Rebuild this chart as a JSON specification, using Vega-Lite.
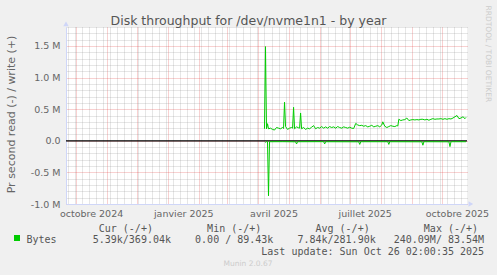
{
  "$schema": "https://vega.github.io/schema/vega-lite/v6.json",
  "width": 401,
  "height": 177,
  "autosize": {"type": "none"},
  "padding": {"left": 66, "top": 27, "right": 30, "bottom": 71},
  "background": "#f0f0f0",
  "title": {"text": "Munin 2.0.67", "orient": "bottom", "anchor": "middle", "frame": "group", "dx": -18.5, "offset": 4, "font": "DejaVu Sans", "fontSize": 7.5, "fontWeight": "normal", "color": "#cccccc"},
  "config": {"view": {"fill": "#ffffff", "stroke": null}, "font": "DejaVu Sans"},
  "data": {"values": [
    {"date": "2025-04-07", "dir": "w", "v": 190000},
    {"date": "2025-04-08", "dir": "w", "v": 1490000},
    {"date": "2025-04-09", "dir": "w", "v": 190000},
    {"date": "2025-04-10", "dir": "w", "v": 270000},
    {"date": "2025-04-11", "dir": "w", "v": 190000},
    {"date": "2025-04-13", "dir": "w", "v": 200000},
    {"date": "2025-04-15", "dir": "w", "v": 180000},
    {"date": "2025-04-17", "dir": "w", "v": 170000},
    {"date": "2025-04-19", "dir": "w", "v": 210000},
    {"date": "2025-04-21", "dir": "w", "v": 200000},
    {"date": "2025-04-23", "dir": "w", "v": 190000},
    {"date": "2025-04-25", "dir": "w", "v": 210000},
    {"date": "2025-04-26", "dir": "w", "v": 195000},
    {"date": "2025-04-27", "dir": "w", "v": 610000},
    {"date": "2025-04-28", "dir": "w", "v": 225000},
    {"date": "2025-04-30", "dir": "w", "v": 180000},
    {"date": "2025-05-02", "dir": "w", "v": 200000},
    {"date": "2025-05-04", "dir": "w", "v": 210000},
    {"date": "2025-05-05", "dir": "w", "v": 200000},
    {"date": "2025-05-06", "dir": "w", "v": 530000},
    {"date": "2025-05-07", "dir": "w", "v": 190000},
    {"date": "2025-05-09", "dir": "w", "v": 220000},
    {"date": "2025-05-11", "dir": "w", "v": 205000},
    {"date": "2025-05-12", "dir": "w", "v": 200000},
    {"date": "2025-05-13", "dir": "w", "v": 440000},
    {"date": "2025-05-14", "dir": "w", "v": 190000},
    {"date": "2025-05-16", "dir": "w", "v": 210000},
    {"date": "2025-05-18", "dir": "w", "v": 180000},
    {"date": "2025-05-20", "dir": "w", "v": 200000},
    {"date": "2025-05-22", "dir": "w", "v": 190000},
    {"date": "2025-05-24", "dir": "w", "v": 215000},
    {"date": "2025-05-26", "dir": "w", "v": 240000},
    {"date": "2025-05-28", "dir": "w", "v": 190000},
    {"date": "2025-05-30", "dir": "w", "v": 210000},
    {"date": "2025-06-01", "dir": "w", "v": 200000},
    {"date": "2025-06-03", "dir": "w", "v": 225000},
    {"date": "2025-06-05", "dir": "w", "v": 200000},
    {"date": "2025-06-07", "dir": "w", "v": 220000},
    {"date": "2025-06-09", "dir": "w", "v": 200000},
    {"date": "2025-06-11", "dir": "w", "v": 225000},
    {"date": "2025-06-13", "dir": "w", "v": 210000},
    {"date": "2025-06-15", "dir": "w", "v": 220000},
    {"date": "2025-06-17", "dir": "w", "v": 200000},
    {"date": "2025-06-19", "dir": "w", "v": 225000},
    {"date": "2025-06-21", "dir": "w", "v": 210000},
    {"date": "2025-06-23", "dir": "w", "v": 200000},
    {"date": "2025-06-25", "dir": "w", "v": 220000},
    {"date": "2025-06-27", "dir": "w", "v": 210000},
    {"date": "2025-06-29", "dir": "w", "v": 200000},
    {"date": "2025-07-01", "dir": "w", "v": 215000},
    {"date": "2025-07-03", "dir": "w", "v": 200000},
    {"date": "2025-07-05", "dir": "w", "v": 195000},
    {"date": "2025-07-07", "dir": "w", "v": 275000},
    {"date": "2025-07-09", "dir": "w", "v": 250000},
    {"date": "2025-07-11", "dir": "w", "v": 240000},
    {"date": "2025-07-13", "dir": "w", "v": 245000},
    {"date": "2025-07-15", "dir": "w", "v": 230000},
    {"date": "2025-07-17", "dir": "w", "v": 240000},
    {"date": "2025-07-19", "dir": "w", "v": 220000},
    {"date": "2025-07-21", "dir": "w", "v": 230000},
    {"date": "2025-07-23", "dir": "w", "v": 245000},
    {"date": "2025-07-25", "dir": "w", "v": 220000},
    {"date": "2025-07-27", "dir": "w", "v": 230000},
    {"date": "2025-07-29", "dir": "w", "v": 240000},
    {"date": "2025-07-31", "dir": "w", "v": 220000},
    {"date": "2025-08-02", "dir": "w", "v": 250000},
    {"date": "2025-08-03", "dir": "w", "v": 300000},
    {"date": "2025-08-05", "dir": "w", "v": 230000},
    {"date": "2025-08-07", "dir": "w", "v": 210000},
    {"date": "2025-08-09", "dir": "w", "v": 225000},
    {"date": "2025-08-11", "dir": "w", "v": 240000},
    {"date": "2025-08-13", "dir": "w", "v": 230000},
    {"date": "2025-08-15", "dir": "w", "v": 225000},
    {"date": "2025-08-17", "dir": "w", "v": 240000},
    {"date": "2025-08-18", "dir": "w", "v": 235000},
    {"date": "2025-08-19", "dir": "w", "v": 340000},
    {"date": "2025-08-21", "dir": "w", "v": 320000},
    {"date": "2025-08-23", "dir": "w", "v": 330000},
    {"date": "2025-08-25", "dir": "w", "v": 335000},
    {"date": "2025-08-27", "dir": "w", "v": 360000},
    {"date": "2025-08-29", "dir": "w", "v": 320000},
    {"date": "2025-08-31", "dir": "w", "v": 330000},
    {"date": "2025-09-02", "dir": "w", "v": 335000},
    {"date": "2025-09-04", "dir": "w", "v": 330000},
    {"date": "2025-09-06", "dir": "w", "v": 335000},
    {"date": "2025-09-08", "dir": "w", "v": 330000},
    {"date": "2025-09-10", "dir": "w", "v": 340000},
    {"date": "2025-09-12", "dir": "w", "v": 340000},
    {"date": "2025-09-14", "dir": "w", "v": 330000},
    {"date": "2025-09-16", "dir": "w", "v": 340000},
    {"date": "2025-09-18", "dir": "w", "v": 325000},
    {"date": "2025-09-20", "dir": "w", "v": 340000},
    {"date": "2025-09-22", "dir": "w", "v": 350000},
    {"date": "2025-09-24", "dir": "w", "v": 340000},
    {"date": "2025-09-26", "dir": "w", "v": 345000},
    {"date": "2025-09-28", "dir": "w", "v": 345000},
    {"date": "2025-09-30", "dir": "w", "v": 350000},
    {"date": "2025-10-02", "dir": "w", "v": 340000},
    {"date": "2025-10-04", "dir": "w", "v": 350000},
    {"date": "2025-10-06", "dir": "w", "v": 340000},
    {"date": "2025-10-08", "dir": "w", "v": 350000},
    {"date": "2025-10-10", "dir": "w", "v": 345000},
    {"date": "2025-10-12", "dir": "w", "v": 360000},
    {"date": "2025-10-14", "dir": "w", "v": 380000},
    {"date": "2025-10-16", "dir": "w", "v": 400000},
    {"date": "2025-10-18", "dir": "w", "v": 350000},
    {"date": "2025-10-20", "dir": "w", "v": 360000},
    {"date": "2025-10-22", "dir": "w", "v": 380000},
    {"date": "2025-10-24", "dir": "w", "v": 350000},
    {"date": "2025-10-25", "dir": "w", "v": 370000},
    {"date": "2025-04-08", "dir": "r", "v": -30000},
    {"date": "2025-04-09", "dir": "r", "v": -12000},
    {"date": "2025-04-10", "dir": "r", "v": -15000},
    {"date": "2025-04-11", "dir": "r", "v": -870000},
    {"date": "2025-04-12", "dir": "r", "v": -15000},
    {"date": "2025-04-25", "dir": "r", "v": -14000},
    {"date": "2025-05-08", "dir": "r", "v": -16000},
    {"date": "2025-05-09", "dir": "r", "v": -50000},
    {"date": "2025-05-10", "dir": "r", "v": -15000},
    {"date": "2025-06-05", "dir": "r", "v": -14000},
    {"date": "2025-06-06", "dir": "r", "v": -50000},
    {"date": "2025-06-07", "dir": "r", "v": -15000},
    {"date": "2025-07-10", "dir": "r", "v": -16000},
    {"date": "2025-07-11", "dir": "r", "v": -57000},
    {"date": "2025-07-12", "dir": "r", "v": -15000},
    {"date": "2025-08-08", "dir": "r", "v": -15000},
    {"date": "2025-08-09", "dir": "r", "v": -57000},
    {"date": "2025-08-10", "dir": "r", "v": -15000},
    {"date": "2025-09-11", "dir": "r", "v": -16000},
    {"date": "2025-09-12", "dir": "r", "v": -70000},
    {"date": "2025-09-13", "dir": "r", "v": -15000},
    {"date": "2025-10-08", "dir": "r", "v": -16000},
    {"date": "2025-10-09", "dir": "r", "v": -92000},
    {"date": "2025-10-10", "dir": "r", "v": -15000},
    {"date": "2025-10-25", "dir": "r", "v": -15000}
  ]},
  "layer": [
    {
      "data": {"values": [{}]},
      "mark": {"type": "rule", "color": "#000000", "strokeWidth": 1.2},
      "encoding": {
        "y": {"datum": 0, "type": "quantitative", "scale": {"domain": [-1000000, 1800000], "nice": false, "zero": false}, "axis": null}
      }
    },
    {
      "mark": {"type": "line", "strokeWidth": 1},
      "encoding": {
        "x": {
          "field": "date", "type": "temporal",
          "scale": {"type": "utc", "domain": [{"year": 2024, "month": 9, "date": 21, "utc": true}, {"year": 2025, "month": 10, "date": 26, "utc": true}]},
          "axis": {
            "orient": "bottom",
            "values": [
              {"year": 2024, "month": 9, "date": 23, "utc": true}, {"year": 2024, "month": 9, "date": 30, "utc": true},
              {"year": 2024, "month": 10, "date": 7, "utc": true}, {"year": 2024, "month": 10, "date": 14, "utc": true}, {"year": 2024, "month": 10, "date": 21, "utc": true}, {"year": 2024, "month": 10, "date": 28, "utc": true},
              {"year": 2024, "month": 11, "date": 4, "utc": true}, {"year": 2024, "month": 11, "date": 11, "utc": true}, {"year": 2024, "month": 11, "date": 18, "utc": true}, {"year": 2024, "month": 11, "date": 25, "utc": true},
              {"year": 2024, "month": 12, "date": 2, "utc": true}, {"year": 2024, "month": 12, "date": 9, "utc": true}, {"year": 2024, "month": 12, "date": 16, "utc": true}, {"year": 2024, "month": 12, "date": 23, "utc": true}, {"year": 2024, "month": 12, "date": 30, "utc": true},
              {"year": 2025, "month": 1, "date": 6, "utc": true}, {"year": 2025, "month": 1, "date": 13, "utc": true}, {"year": 2025, "month": 1, "date": 20, "utc": true}, {"year": 2025, "month": 1, "date": 27, "utc": true},
              {"year": 2025, "month": 2, "date": 3, "utc": true}, {"year": 2025, "month": 2, "date": 10, "utc": true}, {"year": 2025, "month": 2, "date": 17, "utc": true}, {"year": 2025, "month": 2, "date": 24, "utc": true},
              {"year": 2025, "month": 3, "date": 3, "utc": true}, {"year": 2025, "month": 3, "date": 10, "utc": true}, {"year": 2025, "month": 3, "date": 17, "utc": true}, {"year": 2025, "month": 3, "date": 24, "utc": true}, {"year": 2025, "month": 3, "date": 31, "utc": true},
              {"year": 2025, "month": 4, "date": 7, "utc": true}, {"year": 2025, "month": 4, "date": 14, "utc": true}, {"year": 2025, "month": 4, "date": 21, "utc": true}, {"year": 2025, "month": 4, "date": 28, "utc": true},
              {"year": 2025, "month": 5, "date": 5, "utc": true}, {"year": 2025, "month": 5, "date": 12, "utc": true}, {"year": 2025, "month": 5, "date": 19, "utc": true}, {"year": 2025, "month": 5, "date": 26, "utc": true},
              {"year": 2025, "month": 6, "date": 2, "utc": true}, {"year": 2025, "month": 6, "date": 9, "utc": true}, {"year": 2025, "month": 6, "date": 16, "utc": true}, {"year": 2025, "month": 6, "date": 23, "utc": true}, {"year": 2025, "month": 6, "date": 30, "utc": true},
              {"year": 2025, "month": 7, "date": 7, "utc": true}, {"year": 2025, "month": 7, "date": 14, "utc": true}, {"year": 2025, "month": 7, "date": 21, "utc": true}, {"year": 2025, "month": 7, "date": 28, "utc": true},
              {"year": 2025, "month": 8, "date": 4, "utc": true}, {"year": 2025, "month": 8, "date": 11, "utc": true}, {"year": 2025, "month": 8, "date": 18, "utc": true}, {"year": 2025, "month": 8, "date": 25, "utc": true},
              {"year": 2025, "month": 9, "date": 1, "utc": true}, {"year": 2025, "month": 9, "date": 8, "utc": true}, {"year": 2025, "month": 9, "date": 15, "utc": true}, {"year": 2025, "month": 9, "date": 22, "utc": true}, {"year": 2025, "month": 9, "date": 29, "utc": true},
              {"year": 2025, "month": 10, "date": 6, "utc": true}, {"year": 2025, "month": 10, "date": 13, "utc": true}, {"year": 2025, "month": 10, "date": 20, "utc": true},
              {"year": 2024, "month": 10, "date": 1, "utc": true}, {"year": 2024, "month": 11, "date": 1, "utc": true}, {"year": 2024, "month": 12, "date": 1, "utc": true},
              {"year": 2025, "month": 1, "date": 1, "utc": true}, {"year": 2025, "month": 2, "date": 1, "utc": true}, {"year": 2025, "month": 3, "date": 1, "utc": true}, {"year": 2025, "month": 4, "date": 1, "utc": true},
              {"year": 2025, "month": 5, "date": 1, "utc": true}, {"year": 2025, "month": 6, "date": 1, "utc": true}, {"year": 2025, "month": 7, "date": 1, "utc": true}, {"year": 2025, "month": 8, "date": 1, "utc": true},
              {"year": 2025, "month": 10, "date": 1, "utc": true},
              {"year": 2024, "month": 10, "date": 16, "utc": true}, {"year": 2025, "month": 1, "date": 16, "utc": true}, {"year": 2025, "month": 4, "date": 16, "utc": true}, {"year": 2025, "month": 7, "date": 16, "utc": true}, {"year": 2025, "month": 10, "date": 16, "utc": true}
            ],
            "grid": true,
            "gridDash": [1, 1],
            "gridWidth": 1,
            "gridColor": {"condition": {"test": "utcdate(datum.value) == 1", "value": "#de3031"}, "value": "#8f8f8f"},
            "gridOpacity": {"condition": {"test": "utcdate(datum.value) == 16 && utcday(datum.value) != 1", "value": 0}, "value": 0.45},
            "ticks": false,
            "domain": true,
            "domainColor": "#cfd6f8",
            "domainWidth": 1,
            "labelExpr": "(utcdate(datum.value) == 16 && utcday(datum.value) != 1) ? (['janvier','février','mars','avril','mai','juin','juillet','août','septembre','octobre','novembre','décembre'][utcmonth(datum.value)] + ' ' + utcyear(datum.value)) : ''",
            "labelFont": "DejaVu Sans",
            "labelFontSize": 9.5,
            "labelColor": "#666666",
            "labelBaseline": "alphabetic",
            "labelPadding": 12.7,
            "labelOverlap": false,
            "labelFlush": false,
            "labelBound": false,
            "title": [
              "\u200b\u00a0\u00a0\u00a0\u00a0\u00a0\u00a0\u00a0\u00a0\u00a0\u00a0\u00a0\u00a0Cur (-/+)\u00a0\u00a0\u00a0\u00a0\u00a0\u00a0\u00a0\u00a0\u00a0Min (-/+)\u00a0\u00a0\u00a0\u00a0\u00a0\u00a0\u00a0\u00a0\u00a0Avg (-/+)\u00a0\u00a0\u00a0\u00a0\u00a0\u00a0\u00a0\u00a0\u00a0Max (-/+)",
              "Bytes\u00a0\u00a0\u00a0\u00a0\u00a0\u00a05.39k/369.04k\u00a0\u00a0\u00a0\u00a00.00 / 89.43k\u00a0\u00a0\u00a0\u00a07.84k/281.90k\u00a0\u00a0\u00a0240.09M/ 83.54M",
              "\u200b\u00a0\u00a0\u00a0\u00a0\u00a0\u00a0\u00a0\u00a0\u00a0\u00a0\u00a0\u00a0\u00a0\u00a0\u00a0\u00a0\u00a0\u00a0\u00a0\u00a0\u00a0\u00a0\u00a0\u00a0\u00a0\u00a0\u00a0\u00a0\u00a0\u00a0\u00a0\u00a0\u00a0\u00a0\u00a0\u00a0\u00a0\u00a0\u00a0Last update: Sun Oct 26 02:00:35 2025"
            ],
            "titleFont": "DejaVu Sans Mono",
            "titleFontSize": 10,
            "titleFontWeight": "normal",
            "titleColor": "#555555",
            "titleAlign": "left",
            "titleAnchor": "start",
            "titleBaseline": "alphabetic",
            "titleX": -40,
            "titleY": 27,
            "titleLineHeight": 11.7
          }
        },
        "y": {
          "field": "v", "type": "quantitative",
          "scale": {"domain": [-1000000, 1800000], "nice": false, "zero": false},
          "axis": {
            "orient": "left",
            "values": [-1000000, -900000, -800000, -700000, -600000, -500000, -400000, -300000, -200000, -100000, 0, 100000, 200000, 300000, 400000, 500000, 600000, 700000, 800000, 900000, 1000000, 1100000, 1200000, 1300000, 1400000, 1500000, 1600000, 1700000, 1800000],
            "grid": true,
            "gridDash": [1, 1],
            "gridWidth": 1,
            "gridColor": {"condition": {"test": "datum.value % 500000 == 0", "value": "#de3031"}, "value": "#8f8f8f"},
            "gridOpacity": 0.45,
            "ticks": false,
            "domain": true,
            "domainColor": "#cfd6f8",
            "domainWidth": 1,
            "labelExpr": "datum.value % 500000 == 0 ? (datum.value == 0 ? '0.0' : (datum.value < 0 ? '-' : '') + format(abs(datum.value) / 1000000, '.1f') + ' M') : ''",
            "labelFont": "DejaVu Sans",
            "labelFontSize": 9.5,
            "labelColor": "#666666",
            "labelPadding": 6,
            "labelOverlap": false,
            "labelFlush": false,
            "labelBound": false,
            "title": "Pr second read (-) / write (+)",
            "titleFont": "DejaVu Sans",
            "titleFontSize": 11,
            "titleFontWeight": "normal",
            "titleColor": "#666666",
            "titleAngle": -90,
            "titleAlign": "center",
            "titleBaseline": "alphabetic",
            "titleX": -52,
            "titleY": 87
          }
        },
        "detail": {"field": "dir"},
        "color": {
          "datum": "Bytes",
          "scale": {"range": ["#00cc00"]},
          "legend": {
            "orient": "none", "legendX": -52, "legendY": 208, "title": null, "padding": 0,
            "symbolType": "square", "symbolSize": 36, "symbolFillColor": "#00cc00", "symbolStrokeWidth": 0,
            "labelExpr": "''", "labelFontSize": 1, "labelOffset": 0
          }
        }
      }
    },
    {
      "data": {"values": [{}]},
      "mark": {"type": "point", "shape": "triangle-up", "filled": true, "color": "#cfd6f8", "opacity": 1, "size": 30},
      "encoding": {
        "x": {"datum": {"year": 2024, "month": 9, "date": 21, "utc": true}, "type": "temporal", "scale": {"type": "utc", "domain": [{"year": 2024, "month": 9, "date": 21, "utc": true}, {"year": 2025, "month": 10, "date": 26, "utc": true}]}, "axis": null},
        "y": {"datum": 1850000, "type": "quantitative", "scale": {"domain": [-1000000, 1800000], "nice": false, "zero": false}, "axis": null}
      }
    },
    {
      "data": {"values": [{}]},
      "mark": {"type": "point", "shape": "triangle-right", "filled": true, "color": "#cfd6f8", "opacity": 1, "size": 30},
      "encoding": {
        "x": {"datum": {"year": 2025, "month": 10, "date": 29, "hours": 20, "utc": true}, "type": "temporal", "scale": {"type": "utc", "domain": [{"year": 2024, "month": 9, "date": 21, "utc": true}, {"year": 2025, "month": 10, "date": 26, "utc": true}]}, "axis": null},
        "y": {"datum": -1000000, "type": "quantitative", "scale": {"domain": [-1000000, 1800000], "nice": false, "zero": false}, "axis": null}
      }
    },
    {
      "mark": {"type": "point", "opacity": 0},
      "encoding": {
        "x": {
          "field": "date", "type": "temporal",
          "scale": {"type": "utc", "domain": [{"year": 2024, "month": 9, "date": 21, "utc": true}, {"year": 2025, "month": 10, "date": 26, "utc": true}]},
          "axis": {
            "orient": "top", "grid": false, "ticks": false, "domain": false, "labels": false,
            "title": "Disk throughput for /dev/nvme1n1 - by year",
            "titleFont": "DejaVu Sans", "titleFontSize": 12.5, "titleFontWeight": "normal", "titleColor": "#555555",
            "titleX": 182, "titleY": -2.5, "titleAlign": "center", "titleBaseline": "alphabetic", "titleAngle": 0
          }
        },
        "y": {
          "field": "v", "type": "quantitative",
          "scale": {"domain": [-1000000, 1800000], "nice": false, "zero": false},
          "axis": {
            "orient": "right", "grid": false, "ticks": false, "domain": false, "labels": false,
            "title": "RRDTOOL / TOBI OETIKER",
            "titleFont": "DejaVu Sans", "titleFontSize": 7.5, "titleFontWeight": "normal", "titleColor": "#cccccc",
            "titleAngle": 90, "titleX": 18.2, "titleY": -22, "titleAlign": "left", "titleBaseline": "alphabetic"
          }
        }
      }
    }
  ],
  "resolve": {"axis": {"x": "independent", "y": "independent"}}
}
